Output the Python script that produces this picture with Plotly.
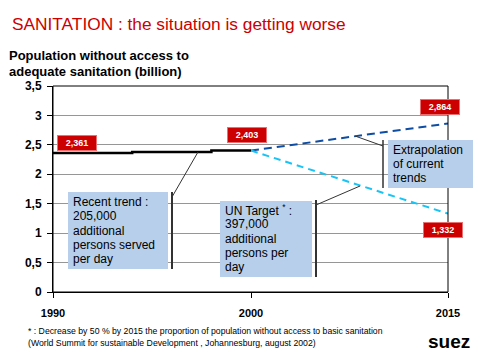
import plotly.graph_objects as go

# ---------------- data ----------------
trend_years = [1990, 1994, 1998, 2000]
trend_values = [2.361, 2.38, 2.403, 2.403]

proj_years = [2000, 2015]
extrapolation_values = [2.403, 2.864]
un_target_values = [2.403, 1.332]

y_tickvals = [0, 0.5, 1, 1.5, 2, 2.5, 3, 3.5]
y_ticktext = ["0", "0,5", "1", "1,5", "2", "2,5", "3", "3,5"]
x_ticks_left = [1990, 2000]
x_ticks_right = [2015]

title_text = "SANITATION : the situation is getting worse"
ylabel_lines = ["Population without access to", "adequate sanitation (billion)"]
recent_lines = ["Recent trend :", "205,000", "additional", "persons served", "per day"]
un_lines = ["UN Target <sup>*</sup> :", "397,000", "additional", "persons per", "day"]
extra_lines = ["Extrapolation", "of current", "trends"]
foot_lines = ["* : Decrease by 50 % by 2015 the proportion of population without access to basic sanitation",
              "(World Summit for sustainable Development , Johannesburg, august 2002)"]

# ---------------- geometry helpers (reference page pixels) ----------------
OFF = 8                      # page body margin
W, H = 481 - OFF, 361 - OFF
L, R, T, B = 53, 448, 86, 292  # plot area in page pixels
def px(x):
    return (x - L) / (R - L)
def py(y):
    return (B - y) / (B - T)

FONT = "Arial, Liberation Sans, sans-serif"
RED = "#CC0000"
BOXFILL = "#B7CFEA"

fig = go.Figure()
fig.add_trace(go.Scatter(x=trend_years, y=trend_values, mode="lines", line_shape="hv",
                         line=dict(color="black", width=2.5), xaxis="x", yaxis="y",
                         showlegend=False, hoverinfo="skip"))
fig.add_trace(go.Scatter(x=proj_years, y=extrapolation_values, mode="lines",
                         line=dict(color="#0E4DA4", width=2, dash="8px,5px"), xaxis="x2", yaxis="y",
                         showlegend=False, hoverinfo="skip"))
fig.add_trace(go.Scatter(x=proj_years, y=un_target_values, mode="lines",
                         line=dict(color="#19C4F5", width=2, dash="7px,5px"), xaxis="x2", yaxis="y",
                         showlegend=False, hoverinfo="skip"))

split = px(251)
axis_common = dict(showline=True, linecolor="black", linewidth=1, ticks="outside", ticklen=5,
                   tickcolor="black", showgrid=False, zeroline=False, ticklabelstandoff=6,
                   tickfont=dict(family=FONT, size=11, color="black", weight="bold"))
fig.update_layout(
    width=W, height=H, autosize=False,
    margin=dict(l=L - OFF, r=481 - R, t=T - OFF, b=361 - B, pad=0),
    paper_bgcolor="white", plot_bgcolor="white",
    xaxis=dict(domain=[0, split], range=[1990, 2000], tickvals=x_ticks_left,
               ticktext=[str(v) for v in x_ticks_left], anchor="y", **axis_common),
    xaxis2=dict(domain=[split, 1], range=[2000, 2015], tickvals=x_ticks_right,
                ticktext=[str(v) for v in x_ticks_right], anchor="y", **axis_common),
    yaxis=dict(range=[0, 3.5], tickvals=y_tickvals, ticktext=y_ticktext,
               showline=True, linecolor="black", linewidth=1, ticks="outside", ticklen=5,
               tickcolor="black", showgrid=True, gridcolor="#969696", gridwidth=1, zeroline=False,
               ticklabelstandoff=3,
               tickfont=dict(family=FONT, size=12, color="black", weight="bold")),
)

shapes = []
shapes.append(dict(type="rect", xref="paper", yref="paper", x0=0, x1=1, y0=0, y1=1,
                   line=dict(color="black", width=1), layer="above"))

def box(x0, y0, x1, y1):
    shapes.append(dict(type="rect", xref="paper", yref="paper", x0=px(x0), x1=px(x1),
                       y0=py(y1), y1=py(y0), fillcolor=BOXFILL, line=dict(width=0), layer="above"))

def seg(x0, y0, x1, y1, w=1.5):
    shapes.append(dict(type="line", xref="paper", yref="paper", x0=px(x0), x1=px(x1),
                       y0=py(y0), y1=py(y1), line=dict(color="#333333", width=w), layer="above"))

box(68, 192, 168, 269)
box(220, 201, 312, 277)
box(388, 140, 479, 188)
seg(172, 192, 172, 269, 2)
seg(172, 197, 198, 152, 1)
seg(316, 200, 316, 277, 2)
seg(316, 205, 360, 186, 1)
seg(383, 140, 383, 188, 1.5)
seg(383, 146, 355, 136, 1)
fig.update_layout(shapes=shapes)

anns = []
def text(x, y, s, size=12, color="black", bold=False, xanchor="left"):
    anns.append(dict(xref="paper", yref="paper", x=px(x), y=py(y), text=s, showarrow=False,
                     xanchor=xanchor, yanchor="middle", borderpad=0,
                     font=dict(family=FONT, size=size, color=color, weight="bold" if bold else "normal")))

text(11, 24, title_text, size=17.3, color=RED)
for i, s in enumerate(ylabel_lines):
    text(8, 55 + 16 * i, s, size=13, bold=True)
for i, s in enumerate(recent_lines):
    text(72, 202 + 14.3 * i, s)
for i, s in enumerate(un_lines):
    text(224, 210 + 14.3 * i, s)
for i, s in enumerate(extra_lines):
    text(392, 150 + 14 * i, s)
for i, s in enumerate(foot_lines):
    text(27, 331 + 12 * i, s, size=8.7)
text(449, 341, "suez", size=19, bold=True, xanchor="center")

def fmt(v):
    return f"{v:.3f}".replace(".", ",")

labels = [("x", 1991.2, 2.526, trend_values[0]),
          ("x", 1999.8, 2.667, trend_values[-1]),
          ("x2", 2014.4, 3.143, extrapolation_values[-1]),
          ("x2", 2014.6, 1.045, un_target_values[-1])]
for xr, xv, yv, val in labels:
    anns.append(dict(xref=xr, yref="y", x=xv, y=yv, text=fmt(val), showarrow=False,
                     xanchor="center", yanchor="middle", bgcolor=RED, bordercolor="#E87070",
                     borderwidth=1, borderpad=2, width=34,
                     font=dict(family=FONT, size=9, color="white", weight="bold")))
fig.update_layout(annotations=anns)

fig.write_html("out.html")
